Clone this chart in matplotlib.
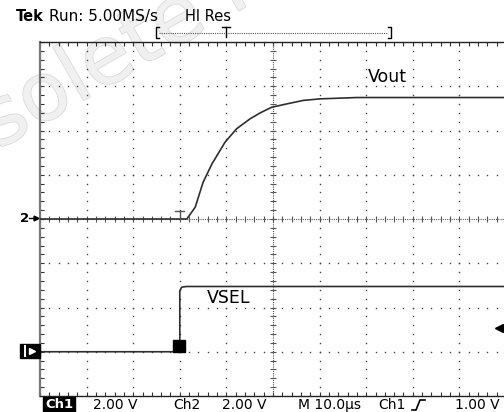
import numpy as np
import matplotlib
matplotlib.use("Agg")
import matplotlib.pyplot as plt
from matplotlib.lines import Line2D
from matplotlib.patches import Rectangle
import matplotlib.patheffects as pe

# Scope capture: Ch2 = Vout (2 V/div), Ch1 = VSEL (2 V/div), 10 us/div
W, H = 504, 412

# Vout (us relative to trigger, volts)
vout_t = [-30, 0, 1.5, 3.3, 5.0, 6.9, 9.7, 12.2, 15.1, 17.2, 19.7, 22.9, 26.5, 30.1, 38.0, 70]
vout_v = [0, 0, 0, 0.53, 1.66, 2.49, 3.47, 4.08, 4.53, 4.79, 5.05, 5.20, 5.36, 5.43, 5.49, 5.49]

# VSEL
vsel_t = [-30, 0, 0.0, 0.4, 1.5, 70]
vsel_v = [0, 0, 2.75, 2.92, 2.95, 2.95]

time_div = 10.0   # us/div
volt_div = 2.0    # V/div
t_left = -30.0    # trigger 3 div from left


def fx(x):
    return x / W


def fy(y):
    return 1 - y / H


fig = plt.figure(figsize=(W / 100, H / 100), dpi=100)
fig.patch.set_facecolor("white")

# watermark
fig.text(fx(-101), fy(207), "Obsolete Product", rotation=30, rotation_mode="anchor",
         ha="left", va="baseline", fontsize=58, color="#f0f0f0", zorder=-1,
         path_effects=[pe.withStroke(linewidth=1.2, foreground="#dadada")])

ax = fig.add_axes([fx(40), fy(396), (506 - 40) / W, (396 - 42) / H])
ax.set_facecolor("none")
ax.set_xlim(t_left, t_left + 10 * time_div)
ax.set_ylim(-4 * volt_div, 4 * volt_div)

# frame ticks
ax.set_xticks(np.arange(t_left, t_left + 10 * time_div + 0.1, time_div / 5))
ax.set_yticks(np.arange(-4 * volt_div, 4 * volt_div + 0.01, volt_div / 5))
ax.tick_params(which="both", direction="in", length=3, width=0.8, color="#333333",
               top=True, bottom=True, left=True, right=False,
               labelbottom=False, labelleft=False)
for s in ["top", "bottom"]:
    ax.spines[s].set_color("#222222")
    ax.spines[s].set_linewidth(1.0)
ax.spines["left"].set_color("#777777")
ax.spines["left"].set_linewidth(1.6)
ax.spines["right"].set_visible(False)

# graticule dots
gx = np.arange(t_left, t_left + 10 * time_div + 0.1, time_div / 5)
gy = np.arange(-4 * volt_div, 4 * volt_div + 0.01, volt_div / 5)
center_t = t_left + 5 * time_div
for k in range(1, 8):
    yv = -4 * volt_div + k * volt_div
    if abs(yv) < 1e-9:
        continue
    ax.plot(gx, np.full_like(gx, yv), ls="none", marker="s", ms=1.0, mew=0, color="#444444")
for k in range(1, 10):
    xv = t_left + k * time_div
    if abs(xv - center_t) < 1e-9:
        continue
    ax.plot(np.full_like(gy, xv), gy, ls="none", marker="s", ms=1.0, mew=0, color="#444444")

# center cross with ticks
ax.axvline(center_t, color="#555555", lw=0.8, ls=(0, (1, 1)))
ax.axhline(0, color="#555555", lw=0.8, ls=(0, (1, 1)))
ax.plot(np.full_like(gy, center_t), gy, ls="none", marker="_", ms=4, mew=0.8, color="#555555")
ax.plot(gx, np.zeros_like(gx), ls="none", marker="|", ms=4, mew=0.8, color="#555555")

# Ch2 trace
ax.plot(vout_t, vout_v, color="#2e2e2e", lw=1.2, zorder=5)
# trigger T on Ch2 baseline
ax.plot([0, 0], [0, 0.38], color="#555555", lw=1.0, zorder=5)
ax.plot([-1.0, 1.0], [0.38, 0.38], color="#555555", lw=1.0, zorder=5)

# Ch1 axis: ground one division above bottom
ax2 = ax.twinx()
ax2.set_ylim(-1 * volt_div, 7 * volt_div)
ax2.axis("off")
ax2.plot(vsel_t, vsel_v, color="#2e2e2e", lw=1.2, zorder=5)
ax2.plot([-0.1], [0.25], marker="s", ms=8, color="black", zorder=6)

# trace labels
fig.text(fx(368), fy(82), "Vout", fontsize=12.5, color="black")
fig.text(fx(207), fy(303), "VSEL", fontsize=12.5, color="black")

# header
fig.text(fx(16), fy(21), "Tek", fontsize=10.5, fontweight="bold", color="black")
fig.text(fx(49), fy(21), "Run: 5.00MS/s", fontsize=11, color="black")
fig.text(fx(185), fy(21), "HI Res", fontsize=10.5, color="black")


def fline(xs, ys, **kw):
    fig.add_artist(Line2D([fx(x) for x in xs], [fy(y) for y in ys],
                          transform=fig.transFigure, **kw))


fline([159, 156, 156, 159], [27, 27, 38, 38], color="black", lw=1.0)
fline([388, 391, 391, 388], [27, 27, 38, 38], color="black", lw=1.0)
fline([159, 388], [33, 33], color="#555555", lw=0.8, ls=(0, (1, 1)))
fline([226, 226], [27, 37], color="black", lw=1.0)
fline([222, 230], [27, 27], color="black", lw=1.0)

# channel markers
fig.text(fx(20), fy(218), "2", fontsize=9.5, fontweight="bold", va="center")
fline([29, 35], [218, 218], color="black", lw=1.0)
fline([36], [218], color="black", marker=">", ms=3.5, ls="none")
fig.add_artist(Rectangle((fx(20), fy(358)), 20 / W, 14 / H, transform=fig.transFigure,
                         facecolor="black", edgecolor="black"))
fline([25, 25], [346, 356], color="white", lw=1.4)
fline([31.5], [351], color="white", marker=">", ms=5, ls="none")

# trigger level arrow (right)
fline([499], [328], color="black", marker="<", ms=6, ls="none")
fline([500, 504], [328, 328], color="black", lw=1.2)

# bottom readout
yb = 405
fig.text(fx(45), fy(yb), "Ch1", fontsize=9.5, fontweight="bold", color="white", va="center",
         bbox=dict(facecolor="black", edgecolor="black", pad=1.2))
fig.text(fx(93), fy(yb), "2.00 V", fontsize=10, va="center")
fig.text(fx(173), fy(yb), "Ch2", fontsize=10, va="center")
fig.text(fx(222), fy(yb), "2.00 V", fontsize=10, va="center")
fig.text(fx(298), fy(yb), "M 10.0\u00b5s", fontsize=10, va="center")
fig.text(fx(378), fy(yb), "Ch1", fontsize=10, va="center")
fline([412, 416, 420, 425], [410, 410, 400, 400], color="black", lw=1.2)
fig.text(fx(455), fy(yb), "1.00 V", fontsize=10, va="center")

fig.savefig("out.png", dpi=100)
